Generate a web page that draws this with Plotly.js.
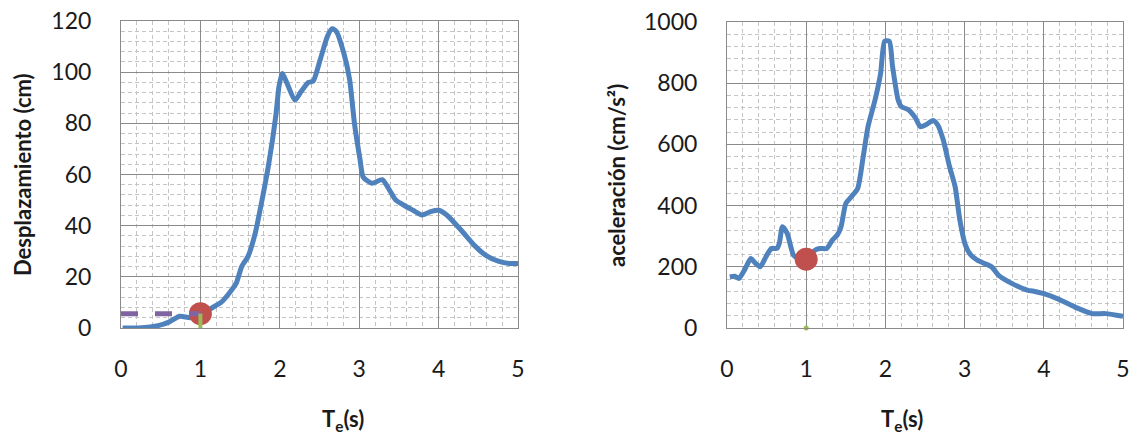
<!DOCTYPE html>
<html>
<head>
<meta charset="utf-8">
<script src="https://cdn.plot.ly/plotly-3.0.1.min.js"></script>
<style>html,body{margin:0;padding:0;background:#fff;}#chart{width:1132px;height:436px;}</style>
</head>
<body>
<div id="chart"></div>
<script>
// Left chart: displacement spectrum
var dispT = [0.02,0.22,0.48,0.61,0.74,0.87,1.0,1.13,1.26,1.36,1.45,1.52,1.6,1.69,1.77,1.86,1.95,1.99,2.03,2.1,2.19,2.27,2.36,2.42,2.51,2.6,2.66,2.71,2.81,2.88,2.94,3.01,3.05,3.16,3.29,3.38,3.46,3.59,3.68,3.79,3.9,4.0,4.11,4.29,4.46,4.59,4.76,4.89,5.0];
var dispV = [0,0,1,2.4,4.6,4,5,7.6,10,13.5,17.4,24,28,37,49,64,83,94.5,99.5,95,89,92.5,96,96.5,105,114,117,116,107,97,80,66,59,56.6,58,54,50,47.5,46,44.2,45.5,46,44,38,32,28.5,26,25.2,25.2];
// Right chart: acceleration spectrum
var accT = [0.035,0.1,0.15,0.23,0.3,0.36,0.42,0.49,0.56,0.63,0.66,0.7,0.76,0.84,0.91,1.01,1.11,1.17,1.26,1.33,1.39,1.44,1.5,1.57,1.65,1.72,1.78,1.87,1.94,1.99,2.05,2.09,2.16,2.2,2.29,2.38,2.44,2.51,2.6,2.66,2.73,2.81,2.88,2.94,3.01,3.08,3.16,3.25,3.34,3.43,3.6,3.8,3.86,4.0,4.17,4.39,4.61,4.78,5.0];
var accV = [167,169,162,194,227,211,200,232,260,260,276,331,309,238,227,227,254,260,260,287,303,331,407,429,456,560,658,746,833,937,937,855,746,724,713,686,658,664,678,664,615,527,462,353,271,238,222,211,200,172,145,123,121,112,96,69,47,47,38];
// Highlighted period point
var pointT = [1];
var pointDisp = [5.6];
var pointAcc = [225];
var guideT = [0, 1];
var guideDisp = [5.6, 5.6];
var vertT = [1, 1];
var vertDisp = [0, 5.6];
var zeroAcc = [0];
var xTicks = [0,1,2,3,4,5];

var blue = '#4F81BD', red = '#C0504D', purple = '#8064A2', green = '#9BBB59';

var traces = [
  {x: dispT, y: dispV, type:'scatter', mode:'lines', line:{color:blue, width:5, shape:'spline', smoothing:0.6}, xaxis:'x', yaxis:'y', hoverinfo:'skip'},
  {x: pointT, y: pointDisp, type:'scatter', mode:'markers', marker:{color:red, size:23}, xaxis:'x', yaxis:'y', cliponaxis:false},
  {x: guideT, y: guideDisp, type:'scatter', mode:'lines', line:{color:purple, width:5, dash:'17px,17px'}, xaxis:'x', yaxis:'y'},
  {x: vertT, y: vertDisp, type:'scatter', mode:'lines', line:{color:green, width:4}, xaxis:'x', yaxis:'y'},
  {x: accT, y: accV, type:'scatter', mode:'lines', line:{color:blue, width:5, shape:'spline', smoothing:0.6}, xaxis:'x2', yaxis:'y2', hoverinfo:'skip'},
  {x: pointT, y: pointAcc, type:'scatter', mode:'markers', marker:{color:red, size:23}, xaxis:'x2', yaxis:'y2', cliponaxis:false},
  {x: pointT, y: zeroAcc, type:'scatter', mode:'markers', marker:{color:green, size:5}, xaxis:'x2', yaxis:'y2', cliponaxis:false}
];

var tickFont = {family:'Lato, "Open Sans", sans-serif', size:23, color:'#1a1a1a'};
var gridC = '#8a8a8a', minorC = '#c4c4c4';
function xa(domain, anchor){
  return {domain:domain, anchor:anchor, range:[0,5], tickvals:xTicks, ticks:'', showline:true, mirror:true, linecolor:gridC, linewidth:1,
    showgrid:true, gridcolor:gridC, gridwidth:1, zeroline:false, tickfont:tickFont, ticklabelstandoff:20,
    minor:{dtick:0.2, showgrid:true, gridcolor:minorC, griddash:'4px,3px', gridwidth:1}, fixedrange:true};
}
function ya(domain, anchor, range, dtick, mdtick){
  return {domain:domain, anchor:anchor, range:range, dtick:dtick, ticks:'', showline:true, mirror:true, linecolor:gridC, linewidth:1,
    showgrid:true, gridcolor:gridC, gridwidth:1, zeroline:false, tickfont:tickFont, ticklabelstandoff:24,
    minor:{dtick:mdtick, showgrid:true, gridcolor:minorC, griddash:'4px,3px', gridwidth:1}, fixedrange:true};
}

var W = 1132, H = 436;
var layout = {
  width:W, height:H, margin:{l:0,r:0,t:0,b:0}, paper_bgcolor:'#fff', plot_bgcolor:'#fff', showlegend:false,
  xaxis: xa([121/W, 518/W], 'y'),
  yaxis: ya([1-328/H, 1-21/H], 'x', [0,120], 20, 4),
  xaxis2: xa([727/W, 1123/W], 'y2'),
  yaxis2: ya([1-328/H, 1-22/H], 'x2', [0,1000], 200, 40),
  annotations: [
    {text:'<b>T<sub>e</sub>(s)</b>', xref:'paper', yref:'paper', x:320/W, y:1-420/H, showarrow:false, yanchor:'middle', font:{family:'Lato, sans-serif', size:22, color:'#1a1a1a'}},
    {text:'<b>T<sub>e</sub>(s)</b>', xref:'paper', yref:'paper', x:925/W, y:1-420/H, showarrow:false, yanchor:'middle', font:{family:'Lato, sans-serif', size:22, color:'#1a1a1a'}},
    {text:'<b>Desplazamiento (cm)</b>', xref:'paper', yref:'paper', x:22/W, y:1-175/H, showarrow:false, textangle:-90, xanchor:'center', yanchor:'middle', font:{family:'Lato, sans-serif', size:22, color:'#1a1a1a'}},
    {text:'<b>aceleración (cm/s²)</b>', xref:'paper', yref:'paper', x:616/W, y:1-176/H, showarrow:false, textangle:-90, xanchor:'center', yanchor:'middle', font:{family:'Lato, sans-serif', size:22, color:'#1a1a1a'}}
  ]
};
Plotly.newPlot('chart', traces, layout, {displayModeBar:false, staticPlot:true});
</script>
</body>
</html>
